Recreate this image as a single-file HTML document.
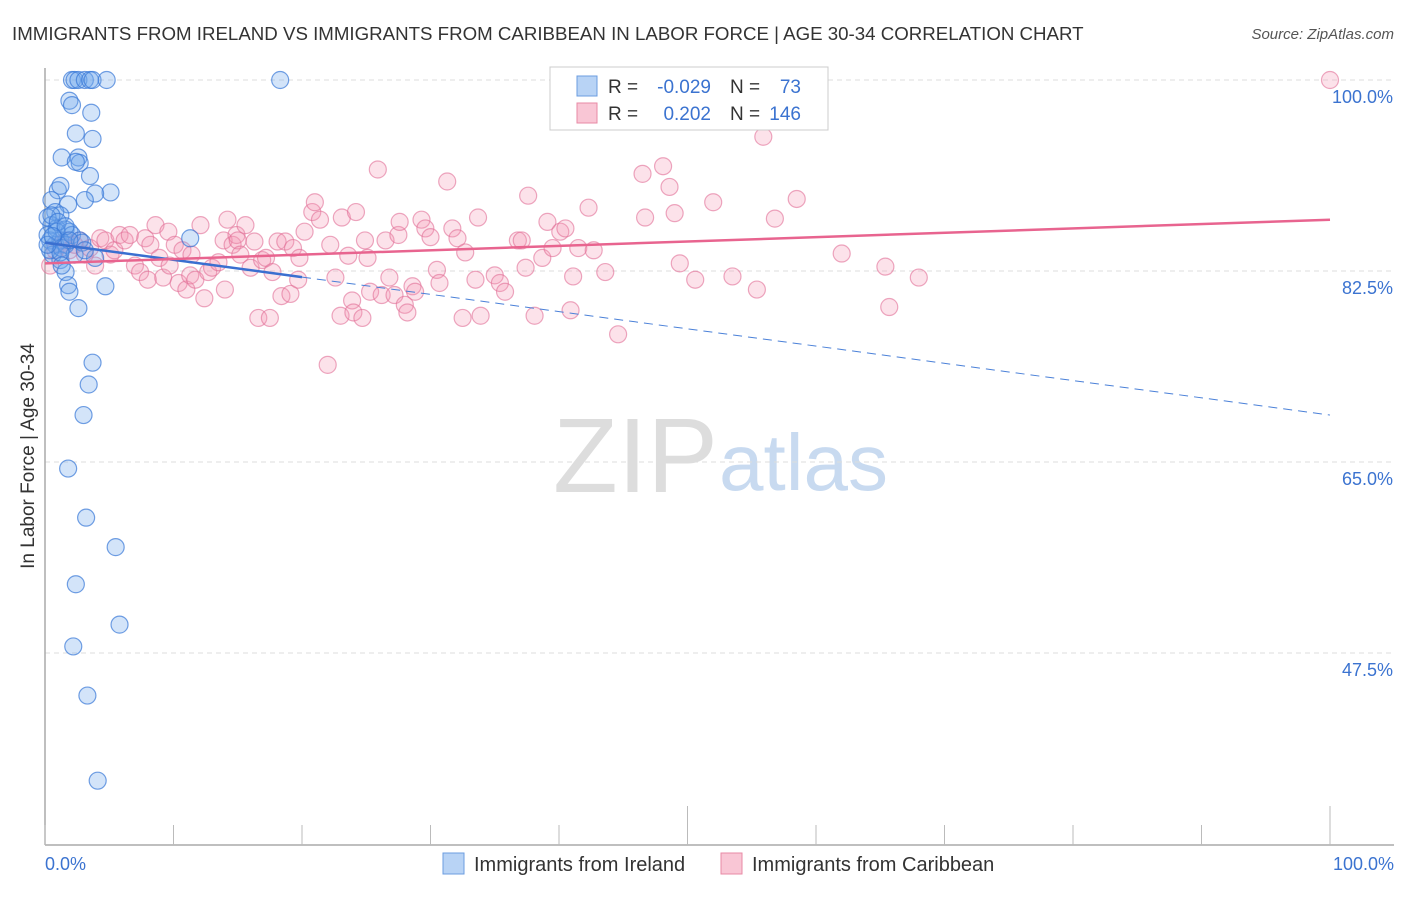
<!DOCTYPE html>
<html><head><meta charset="utf-8"><style>
body{margin:0;background:#fff;font-family:"Liberation Sans",sans-serif;}
svg text{font-family:"Liberation Sans",sans-serif;}
</style></head><body>
<svg id="chart" width="1406" height="892" xmlns="http://www.w3.org/2000/svg">
<text x="12" y="40" font-size="18.7" fill="#333">IMMIGRANTS FROM IRELAND VS IMMIGRANTS FROM CARIBBEAN IN LABOR FORCE | AGE 30-34 CORRELATION CHART</text>
<text x="1394" y="39" font-size="15" fill="#555" font-style="italic" text-anchor="end">Source: ZipAtlas.com</text>
<g>
<text x="553" y="492" font-size="106" fill="#ddd" font-family="Liberation Serif, serif">ZIP</text>
<text x="719" y="490" font-size="80" fill="#c8daf0">atlas</text>
</g>
<g id="grid"></g>
<g id="axes"></g>
<g id="pts"></g>
<g id="trend"></g>
<text transform="translate(34,456) rotate(-90)" font-size="19" fill="#333" text-anchor="middle">In Labor Force | Age 30-34</text>
<g>
<rect x="550" y="67" width="278" height="63" fill="#fff" stroke="#ccc"/>
<rect x="577" y="76" width="20" height="20" fill="#b8d3f5" stroke="#6b9de0"/>
<text x="608" y="93" font-size="19" fill="#333">R = </text><text x="711" y="93" font-size="19" fill="#3b73d0" text-anchor="end">-0.029</text>
<text x="730" y="93" font-size="19" fill="#333">N =</text><text x="801" y="93" font-size="19" fill="#3b73d0" text-anchor="end">73</text>
<rect x="577" y="103" width="20" height="20" fill="#f9c6d5" stroke="#e88aa5"/>
<text x="608" y="120" font-size="19" fill="#333">R = </text><text x="711" y="120" font-size="19" fill="#3b73d0" text-anchor="end">0.202</text>
<text x="730" y="120" font-size="19" fill="#333">N =</text><text x="801" y="120" font-size="19" fill="#3b73d0" text-anchor="end">146</text>
</g>
<g>
<rect x="443" y="853" width="21" height="21" fill="#b8d3f5" stroke="#6b9de0"/>
<text x="474" y="871" font-size="20" fill="#333">Immigrants from Ireland</text>
<rect x="721" y="853" width="21" height="21" fill="#f9c6d5" stroke="#e88aa5"/>
<text x="752" y="871" font-size="20" fill="#333">Immigrants from Caribbean</text>
</g>
</svg>
<script>
const yTicks=[100,82.5,65,47.5];
const yTickLabels=["100.0%","82.5%","65.0%","47.5%"];
const xTickLabels=["0.0%","100.0%"];
const irelandX=[2.1,2.3,2.6,3.1,3.5,3.7,4.8,18.3,1.9,2.1,3.6,2.4,3.7,1.3,2.6,2.7,2.4,3.5,5.1,1.0,1.2,3.9,3.1,1.8,0.5,0.8,1.2,0.5,0.9,1.6,1.9,0.4,0.8,1.2,1.6,2.1,2.7,0.6,1.2,1.6,1.8,1.9,2.6,11.3,4.7,3.7,3.4,3.0,1.8,3.2,5.5,2.4,5.8,2.2,3.3,4.1,0.2,0.4,1.3,2.3,2.9,0.9,0.2,0.5,1.0,1.6,1.9,1.2,3.9,1.3,3.1,0.2,0.6];
const irelandY=[100,100,100,100,100,100,100,100,98.1,97.7,97.0,95.1,94.6,92.9,92.9,92.4,92.5,91.2,89.7,89.9,90.3,89.6,89.0,88.6,89.0,87.9,87.6,86.7,86.4,86.3,86.1,85.3,84.9,85.3,84.9,85.8,85.3,84.0,83.5,82.4,81.2,80.6,79.1,85.5,81.1,74.1,72.1,69.3,64.4,59.9,57.2,53.8,50.1,48.1,43.6,35.8,85.8,84.4,84.6,84.0,85.1,86.1,87.4,87.6,87.0,86.6,85.3,84.2,83.7,83.0,84.4,84.9,85.7];
const caribX=[0.4,0.8,1.2,1.6,1.9,2.3,2.7,3.1,3.5,3.9,4.3,4.7,5.1,5.4,5.8,6.2,6.6,7.0,7.4,7.8,8.0,8.2,8.6,8.9,9.2,9.6,9.7,10.1,10.4,10.7,11.0,11.3,11.4,11.7,12.1,12.4,12.7,13.0,13.5,13.9,14.0,14.2,14.6,14.9,15.0,15.2,15.6,16.0,16.3,16.6,16.9,17.2,17.5,17.7,18.1,18.4,18.7,19.1,19.3,19.7,19.8,20.2,20.8,21.0,21.4,22.0,22.2,22.6,23.0,23.1,23.6,23.9,24.0,24.2,24.7,24.9,25.1,25.3,25.9,26.2,26.5,26.8,27.2,27.5,27.6,28.0,28.2,28.6,28.8,29.3,29.6,30.0,30.5,30.7,31.3,31.7,32.1,32.5,32.7,33.5,33.7,33.9,35.0,35.4,35.8,36.8,37.1,37.4,37.6,38.1,38.7,39.1,39.5,40.1,40.5,40.9,41.1,41.5,42.3,42.7,43.6,44.6,46.5,46.7,48.1,48.6,49.0,49.4,50.6,52.0,53.5,55.4,55.9,56.8,58.5,62.0,65.4,65.7,68.0,100];
const caribY=[83.0,84.4,84.9,85.3,84.4,84.9,85.3,84.0,84.6,83.0,85.5,85.3,84.0,84.4,85.8,85.3,85.8,83.0,82.4,85.5,81.7,84.9,86.7,83.7,81.9,86.1,83.0,84.9,81.4,84.4,80.8,82.1,84.0,81.7,86.7,80.0,82.4,82.8,83.3,85.3,80.8,87.2,84.9,85.8,85.3,84.0,86.7,82.8,85.2,78.2,83.5,83.7,78.2,82.4,85.2,80.2,85.2,80.4,84.6,81.7,83.7,86.1,87.9,88.8,87.2,73.9,84.9,81.9,78.4,87.4,83.9,79.8,78.7,87.9,78.2,85.3,83.7,80.6,91.8,80.3,85.3,81.9,80.3,85.8,87.0,79.4,78.7,81.1,80.6,87.2,86.4,85.6,82.6,81.4,90.7,86.4,85.5,78.2,84.2,81.7,87.4,78.4,82.1,81.4,80.6,85.3,85.3,82.8,89.4,78.4,83.7,87.0,84.6,86.1,86.4,78.9,82.0,84.6,88.3,84.4,82.4,76.7,91.4,87.4,92.1,90.2,87.8,83.2,81.7,88.8,82.0,80.8,94.8,87.3,89.1,84.1,82.9,79.2,81.9,100];
const irelandTrend=[85.1,69.3];
const caribTrend=[83.2,87.2];
const NS="http://www.w3.org/2000/svg";
const X0=45,X1=1330;
function xs(v){return X0+(X1-X0)*v/100;}
function ys(v){return 80+(100-v)*10.914;}
function mk(tag,attrs,parent){const e=document.createElementNS(NS,tag);for(const k in attrs)e.setAttribute(k,attrs[k]);parent.appendChild(e);return e;}
const grid=document.getElementById('grid'),axes=document.getElementById('axes'),pts=document.getElementById('pts'),trend=document.getElementById('trend');
yTicks.forEach((t,i)=>{
  const l=mk('line',{x1:X0,x2:1394,y1:ys(t),y2:ys(t),stroke:'#ddd','stroke-dasharray':'5,4'},grid);
  
  
  const tx=mk('text',{x:1393,y:ys(t)+23,'font-size':18,fill:'#3b73d0','text-anchor':'end'},axes);
  tx.textContent=yTickLabels[i];
  
  
});
const ax=mk('line',{x1:X0,x2:1394,y1:845,y2:845,stroke:'#aaa','stroke-width':1.5},axes);


const ay=mk('line',{x1:X0,x2:X0,y1:68,y2:845,stroke:'#aaa','stroke-width':1.5},axes);


for(let i=0;i<=10;i++){
  const tall=(i==5||i==10);
  const t=mk('line',{x1:xs(i*10),x2:xs(i*10),y1:tall?806:825,y2:845,stroke:'#bbb'},axes);
  
  
}
[[0,'start',45],[100,'end',1394]].forEach((d,i)=>{
  const tx=mk('text',{x:d[2],y:870,'font-size':18,fill:'#3b73d0','text-anchor':d[1]},axes);
  tx.textContent=xTickLabels[i];
  
  
});
caribX.forEach((v,i)=>{
  const c=mk('circle',{cx:xs(v),cy:ys(caribY[i]),r:8.5,fill:'rgba(245,150,180,0.28)',stroke:'rgba(225,110,150,0.6)','stroke-width':1.2},pts);
  
  
});
irelandX.forEach((v,i)=>{
  const c=mk('circle',{cx:xs(v),cy:ys(irelandY[i]),r:8.5,fill:'rgba(110,165,235,0.3)',stroke:'rgba(55,120,215,0.7)','stroke-width':1.2},pts);
  
  
});
function ty(tr,x){return tr[0]+(tr[1]-tr[0])*x/100;}
const bd=mk('line',{x1:xs(20),y1:ys(ty(irelandTrend,20)),x2:xs(100),y2:ys(ty(irelandTrend,100)),stroke:'#4a80d8','stroke-width':1,'stroke-dasharray':'9,6'},trend);


const bs=mk('line',{x1:xs(0),y1:ys(ty(irelandTrend,0)),x2:xs(20),y2:ys(ty(irelandTrend,20)),stroke:'#3a6fd0','stroke-width':2.5},trend);


const ps=mk('line',{x1:xs(0),y1:ys(ty(caribTrend,0)),x2:xs(100),y2:ys(ty(caribTrend,100)),stroke:'#e8648f','stroke-width':2.5},trend);


</script>
</body></html>
